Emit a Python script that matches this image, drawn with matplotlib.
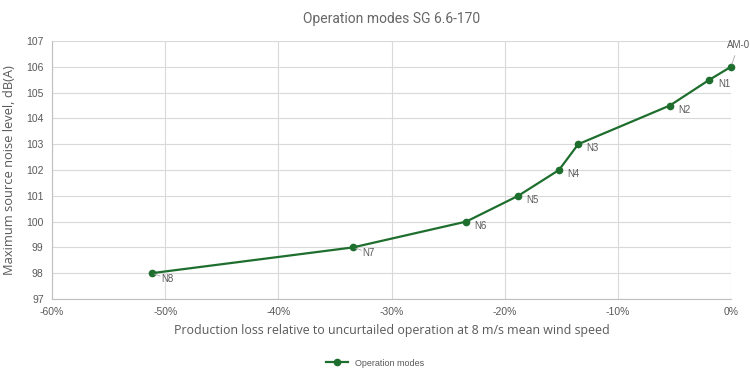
import matplotlib.pyplot as plt
from matplotlib.ticker import FuncFormatter

# production loss (%) and max source noise level dB(A)
loss = [-51.2, -33.4, -23.4, -18.8, -15.2, -13.5, -5.4, -1.9, 0.0]
noise = [98, 99, 100, 101, 102, 103, 104.5, 105.5, 106]
modes = ["N8", "N7", "N6", "N5", "N4", "N3", "N2", "N1", "AM-0"]

green = "#1e6e2e"
gray = "#595959"

fig = plt.figure(figsize=(7.5, 3.77), dpi=100)
ax = fig.add_axes([52 / 750, 1 - 299 / 377, (731 - 52) / 750, (299 - 41) / 377])

ax.plot(loss, noise, color=green, lw=1.6, marker="o", ms=4.5, label="Operation modes",
        clip_on=False, zorder=3)

for xv, yv, name in zip(loss, noise, modes):
    if name == "AM-0":
        ax.annotate(name, (xv, yv), xytext=(-3, 12), textcoords="offset points",
                    fontsize=7, color=gray, ha="left", va="bottom", family="Liberation Sans",
                    arrowprops=dict(arrowstyle="-", color="#a6a6a6", lw=0.6))
    elif name in ("N7", "N8"):
        ax.annotate(name, (xv, yv), xytext=(7, -4), textcoords="offset points",
                    fontsize=7, color=gray, ha="left", va="center", family="Liberation Sans")
        ax.annotate("", (xv, yv), xytext=(6, -2), textcoords="offset points",
                    arrowprops=dict(arrowstyle="-", color="#a6a6a6", lw=0.6,
                                    shrinkA=0, shrinkB=2))
    else:
        ax.annotate(name, (xv, yv), xytext=(6, -3), textcoords="offset points",
                    fontsize=7, color=gray, ha="left", va="center", family="Liberation Sans")

ax.set_xlim(-60, 0)
ax.set_ylim(97, 107)
ax.set_xticks(range(-60, 1, 10))
ax.set_yticks(range(97, 108))
ax.xaxis.set_major_formatter(FuncFormatter(lambda v, p: f"{v:.0f}%"))
ax.grid(True, color="#d9d9d9", lw=0.8)
ax.set_axisbelow(True)
for side in ["top", "right"]:
    ax.spines[side].set_visible(False)
for side in ["left", "bottom"]:
    ax.spines[side].set_color("#bfbfbf")
    ax.spines[side].set_linewidth(0.8)
ax.tick_params(length=0, labelsize=7.5, labelcolor=gray, pad=6)
for lbl in ax.get_xticklabels() + ax.get_yticklabels():
    lbl.set_family("Liberation Sans")

ax.set_title("Operation modes SG 6.6-170", fontsize=10, color="#666666", pad=13,
             family=["Liberation Sans Narrow", "Roboto", "DejaVu Sans"])
ax.set_xlabel("Production loss relative to uncurtailed operation at 8 m/s mean wind speed",
              fontsize=8.9, color=gray, family="Open Sans", labelpad=5)
ax.set_ylabel("Maximum source noise level, dB(A)", fontsize=9.3, color=gray,
              family="Open Sans", labelpad=7)

leg = fig.legend(loc="center", bbox_to_anchor=(0.5, 1 - 363 / 377),
                 frameon=False, handlelength=2.5,
                 prop={"family": "Liberation Sans", "size": 6.5}, labelcolor=gray)

fig.savefig("out.png", dpi=100)
